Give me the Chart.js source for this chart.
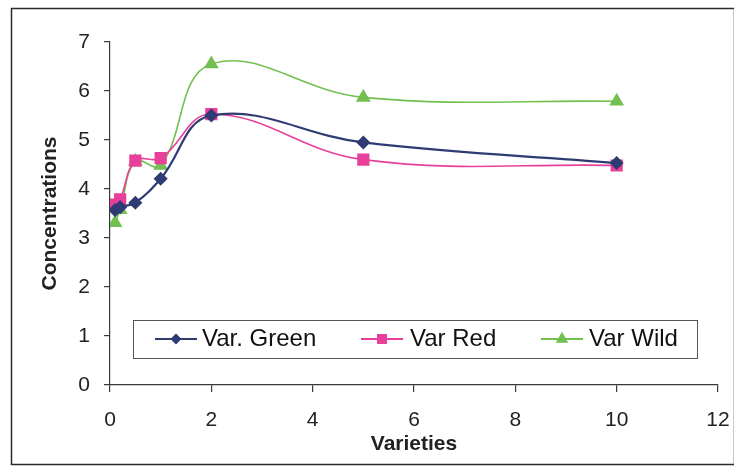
<!DOCTYPE html>
<html>
<head>
<meta charset="utf-8">
<script src="https://cdn.jsdelivr.net/npm/chart.js@4.4.0/dist/chart.umd.min.js"></script>
<style>
  html, body { margin: 0; padding: 0; background: #fff; }
  #wrap { position: relative; width: 734px; height: 469px; }
</style>
</head>
<body>
<div id="wrap"><canvas id="chart" width="734" height="469"></canvas></div>
<script>
// data
const xValues = [0.1, 0.2, 0.5, 1, 2, 5, 10];
const varGreen = [3.57, 3.63, 3.72, 4.21, 5.5, 4.95, 4.53];
const varRed = [3.68, 3.79, 4.58, 4.63, 5.53, 4.6, 4.48];
const varWild = [3.31, 3.58, 4.56, 4.48, 6.55, 5.87, 5.79];
const seriesNames = ['Var. Green', 'Var Red', 'Var Wild'];
const xTicks = [0, 2, 4, 6, 8, 10, 12];
const yTicks = [0, 1, 2, 3, 4, 5, 6, 7];

const axisColor = '#3a3a3a';
const fontFamily = 'Arial, "Liberation Sans", sans-serif';

function toPoints(ys) {
    return xValues.map((x, i) => ({ x: x, y: ys[i] }));
}

const styles = [
    { color: '#2f3b73', pointStyle: 'rectRot', radius: 5.5 },
    { color: '#e8409a', pointStyle: 'rect', radius: 7.5 },
    { color: '#72c04f', pointStyle: 'triangle', radius: 7 }
];

const frame = {
    id: 'frame',
    beforeDraw(chart) {
        const ctx = chart.ctx;
        ctx.save();
        ctx.fillStyle = '#fff';
        ctx.fillRect(0, 0, chart.width, chart.height);
        ctx.strokeStyle = '#2a2a2a';
        ctx.lineWidth = 1.5;
        ctx.strokeRect(11.5, 8.5, 723, 456);
        ctx.restore();
    }
};

// legend box sits inside the plot like the Excel original
const boxLegend = {
    id: 'boxLegend',
    afterDraw(chart) {
        const ctx = chart.ctx;
        const left = 133, top = 320, w = 564, h = 38;
        const cy = top + h / 2;
        const entries = [
            { lineX: 155, textX: 202 },
            { lineX: 361, textX: 410 },
            { lineX: 541, textX: 589 }
        ];
        ctx.save();
        ctx.fillStyle = '#fff';
        ctx.fillRect(left, top, w, h);
        ctx.strokeStyle = '#555';
        ctx.lineWidth = 1;
        ctx.strokeRect(left + 0.5, top + 0.5, w, h);
        chart.data.datasets.forEach((ds, i) => {
            const e = entries[i];
            ctx.strokeStyle = ds.borderColor;
            ctx.lineWidth = 2;
            ctx.beginPath();
            ctx.moveTo(e.lineX, cy);
            ctx.lineTo(e.lineX + 42, cy);
            ctx.stroke();
            ctx.fillStyle = ds.borderColor;
            Chart.helpers.drawPoint(ctx, {
                pointStyle: ds.pointStyle,
                radius: ds.pointRadius * 0.75,
                rotation: 0,
                borderWidth: 1
            }, e.lineX + 21, cy);
            ctx.fillStyle = '#111';
            ctx.font = '24px ' + fontFamily;
            ctx.textBaseline = 'middle';
            ctx.textAlign = 'left';
            ctx.fillText(ds.label, e.textX, cy);
        });
        ctx.restore();
    }
};

const ctx = document.getElementById('chart').getContext('2d');
new Chart(ctx, {
    type: 'line',
    data: {
        datasets: [varGreen, varRed, varWild].map((ys, i) => ({
            label: seriesNames[i],
            data: toPoints(ys),
            borderColor: styles[i].color,
            backgroundColor: styles[i].color,
            pointBackgroundColor: styles[i].color,
            pointBorderColor: styles[i].color,
            pointStyle: styles[i].pointStyle,
            pointRadius: styles[i].radius,
            borderWidth: i === 0 ? 2.2 : 1.6,
            tension: 0.4,
            fill: false
        }))
    },
    options: {
        responsive: false,
        animation: false,
        layout: { padding: { left: 0, top: 42, right: 16, bottom: 0 } },
        plugins: {
            legend: { display: false },
            tooltip: { enabled: false }
        },
        scales: {
            x: {
                type: 'linear',
                min: 0,
                max: 12,
                afterBuildTicks: (scale) => { scale.ticks = xTicks.map(v => ({ value: v })); },
                afterFit: (scale) => {
                    scale.height = 84;
                    scale.paddingRight = 4;
                },
                grid: { drawOnChartArea: false, drawTicks: true, tickLength: 7, color: axisColor, lineWidth: 1.2 },
                border: { display: true, color: axisColor, width: 1.2 },
                ticks: { color: '#222', padding: 16, font: { family: fontFamily, size: 21 } },
                title: {
                    display: true,
                    text: 'Varieties',
                    color: '#222',
                    font: { family: fontFamily, size: 21, weight: 'bold' },
                    padding: { top: 0, bottom: 12 }
                }
            },
            y: {
                type: 'linear',
                min: 0,
                max: 7,
                afterBuildTicks: (scale) => { scale.ticks = yTicks.map(v => ({ value: v })); },
                afterFit: (scale) => { scale.width = 110; },
                grid: { drawOnChartArea: false, drawTicks: true, tickLength: 6, color: axisColor, lineWidth: 1.2 },
                border: { display: true, color: axisColor, width: 1.2 },
                ticks: { color: '#222', padding: 14, font: { family: fontFamily, size: 21 } },
                title: {
                    display: true,
                    text: 'Concentrations',
                    color: '#222',
                    font: { family: fontFamily, size: 21, weight: 'bold' },
                    padding: { top: 38, bottom: 0 }
                }
            }
        }
    },
    plugins: [frame, boxLegend]
});
</script>
</body>
</html>
